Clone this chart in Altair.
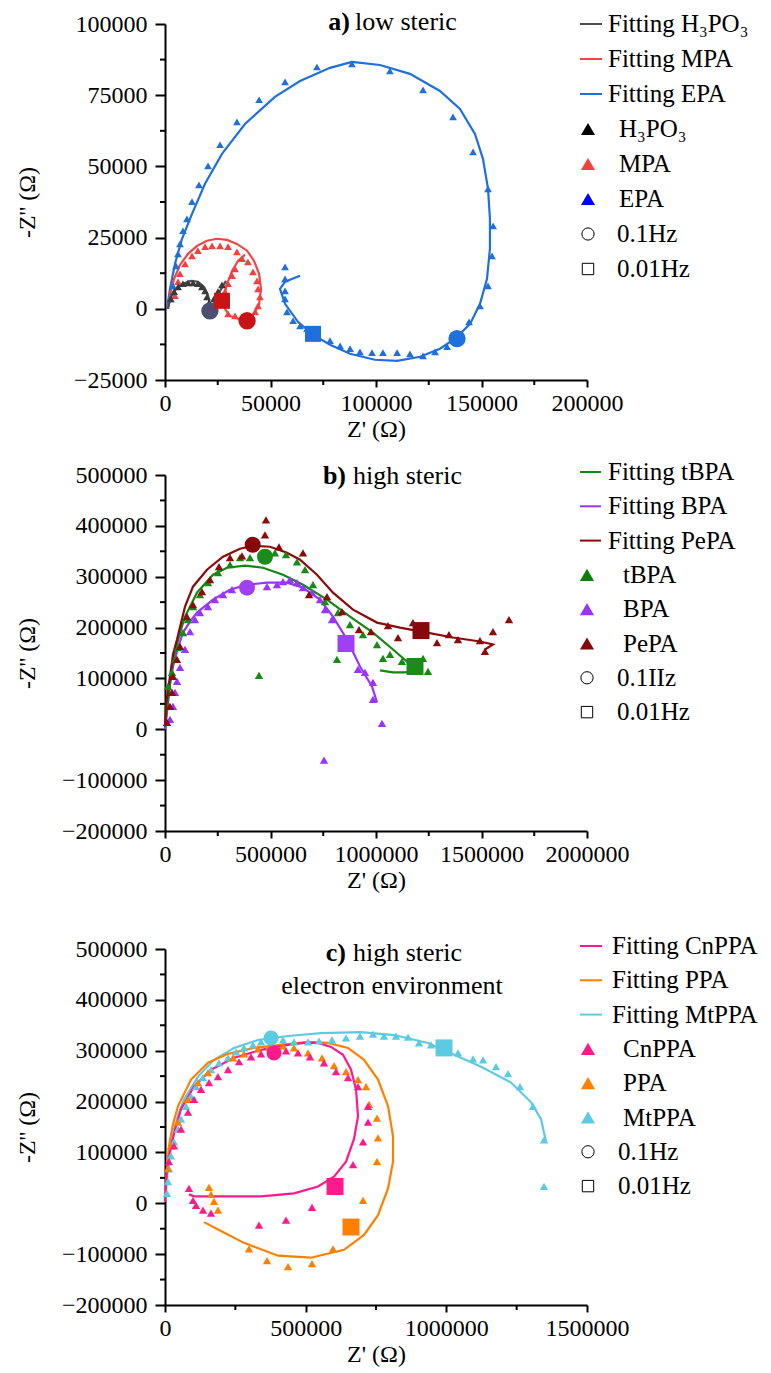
import altair as alt
import pandas as pd

FONT = "Liberation Serif"
W, H = 422, 356

# ---------------- panel a (low steric) ----------------
H3PO3_FIT_X = [1400, 2800, 5200, 8500, 12300, 15600, 18500, 20400, 21300, 22300, 23700, 26100, 28900]
H3PO3_FIT_Y = [0, 4200, 7000, 8800, 9800, 9500, 7700, 4600, 1400, 0, 2800, 6300, 9800]
H3PO3_PTS_X = [2800, 4300, 6200, 8500, 10900, 13300, 15600, 17500, 19000, 19900, 20900, 23200, 25100, 27000]
H3PO3_PTS_Y = [3500, 6000, 7700, 8800, 9100, 9100, 8800, 7700, 6300, 4200, 2100, 3500, 6000, 8400]

MPA_FIT_X = [1400, 2400, 4300, 7100, 10900, 15200, 19900, 24600, 29400, 34100, 38900, 42200, 44600, 45500,
             44600, 42200, 38900, 34600, 30800, 28400, 28000, 29400, 31800, 34600, 37900]
MPA_FIT_Y = [0, 5300, 10500, 15400, 19300, 22100, 23900, 24600, 24200, 22800, 20400, 16800, 12300, 7000,
             1750, -1750, -3500, -3500, -2500, 0, 4200, 8800, 13300, 16800, 19000]
MPA_PTS_X = [4700, 6200, 7100, 9500, 12800, 15600, 19000, 22300, 26100, 29900, 34100, 36500, 39300, 41700,
             43600, 44100, 45000, 44100, 42700, 39300, 36500, 33200, 29900, 28400, 29900, 31800, 33200]
MPA_PTS_Y = [4600, 9500, 12300, 15800, 18600, 20400, 21800, 22100, 22100, 21800, 20000, 17600, 16500, 13000,
             9800, 7000, 4200, 1050, -1050, -2500, -2800, -2500, -1750, 6000, 8800, 11600, 14000]

EPA_FIT_X = [950, 2370, 4740, 8060, 12800, 18960, 27000, 37900, 52100, 64000, 78200, 88600, 101900, 116100,
             130300, 139800, 146900, 150700, 153100, 154000, 154000, 152600, 149300, 144600, 137500, 130300,
             120900, 110000, 99500, 87700, 78200, 70150, 63000, 56900, 54500, 56900, 64000]
EPA_FIT_Y = [0, 7020, 15800, 24570, 33350, 43900, 54400, 64900, 74400, 80000, 84600, 86700, 85600, 82500,
             76500, 70200, 61400, 52650, 42100, 31600, 21100, 10500, 1750, -5300, -10500, -14000,
             -16850, -18250, -17900, -15800, -12600, -9100, -4560, 1750, 7000, 9500, 11600]
EPA_PTS_X = [2370, 3790, 5210, 6160, 7110, 8530, 10400, 12800, 16100, 20400, 26100, 34100, 44600, 56900,
             72000, 88600, 106600, 122300, 136500, 146000, 153100, 155500, 155000, 153100, 149300, 144100,
             133700, 128000, 122300, 116100, 110000, 103300, 98100, 92400, 87700, 83000, 78200, 67300,
             64000, 60700, 57800, 56900, 56900, 56900, 56900]
EPA_PTS_Y = [3510, 8070, 15100, 19300, 22800, 27400, 31600, 37600, 43500, 50200, 57600, 65600, 73400, 79700,
             84900, 86000, 83500, 76900, 67400, 55100, 42100, 29100, 18600, 8070, 1050, -4560,
             -13300, -15100, -16500, -15800, -15400, -15400, -15400, -15100, -14000, -13000, -11200, -7000,
             -6000, -4200, -1050, 3500, 6300, 10500, 14700]

A_CIRCLE_SERIES = ["H3PO3", "MPA", "EPA"]
A_CIRCLE_X = [21300, 38900, 138400]
A_CIRCLE_Y = [-700, -4200, -10500]
A_SQUARE_SERIES = ["MPA", "EPA"]
A_SQUARE_X = [27000, 70150]
A_SQUARE_Y = [2800, -8800]

# ---------------- panel b (high steric) ----------------
TBPA_FIT_X = [0, 14200, 37900, 71100, 94800, 151600, 227500, 293800, 379100, 464400, 559200, 654000,
              767700, 876700, 985700, 1080500, 1151600, 1184800, 1137400, 1080500, 1018900]
TBPA_FIT_Y = [5900, 58800, 137300, 190200, 221600, 268700, 304000, 317700, 321600, 317700, 304000, 284300,
              254900, 221600, 190200, 156900, 131400, 115000, 111800, 111800, 115700]
TBPA_PTS_X = [14200, 33200, 47400, 61600, 85300, 109000, 132700, 165900, 203800, 251200, 308000, 355400,
              402800, 521300, 573400, 625500, 663500, 701400, 758200, 819800, 876700, 938300, 1004700,
              1066300, 1123100, 1222700, 1246400, 1033100, 815100, 445500]
TBPA_PTS_Y = [84300, 111800, 137300, 160800, 190200, 215700, 241200, 264700, 288300, 307900, 323600, 337300,
              337300, 347100, 343200, 329400, 313800, 284300, 251000, 229400, 205900, 186300, 166700,
              147100, 133300, 139200, 113700, 139200, 137300, 105900]

BPA_FIT_X = [0, 9500, 23700, 37900, 61600, 85300, 118500, 151600, 227500, 308000, 388600, 483400, 578200,
             654000, 734500, 796200, 862500, 924100, 981000, 1004700]
BPA_FIT_Y = [0, 33300, 88200, 123500, 160800, 190200, 211800, 229400, 254900, 274500, 284300, 288300, 288300,
             278500, 254900, 221600, 176500, 123500, 84300, 52900]
BPA_PTS_X = [23700, 37900, 47400, 56900, 71100, 94800, 118500, 142200, 165900, 203800, 237000, 274900,
             317500, 483400, 530800, 559200, 592400, 625500, 654000, 696600, 734500, 758200, 791400,
             914600, 947800, 985700, 985700, 1028400, 753500]
BPA_PTS_Y = [19600, 45100, 72600, 94100, 121600, 156900, 192200, 215700, 229400, 241200, 254900, 264700,
             274500, 280400, 284300, 290200, 294200, 288300, 278500, 268700, 254900, 235300, 215700,
             117700, 111800, 92200, 58800, 11800, -60800]

PEPA_FIT_X = [0, 4700, 23700, 37900, 56900, 94800, 132700, 199000, 274900, 355400, 417000, 497600, 578200,
              639800, 720300, 796200, 890900, 1004700, 1113700, 1241600, 1364800, 1492800, 1554400, 1516500]
PEPA_FIT_Y = [5900, 49000, 103900, 147100, 176500, 241200, 280400, 313800, 339300, 354900, 360800, 358900,
              347100, 333400, 304000, 268700, 235300, 209800, 200000, 190200, 180400, 172600, 166700, 156900]
PEPA_PTS_X = [9500, 23700, 33200, 37900, 56900, 71100, 104300, 132700, 175300, 213300, 255900, 308000,
              364900, 473900, 478600, 540200, 654000, 682400, 767700, 838800, 919400, 976200, 1056800,
              1104200, 1175300, 1289000, 1345900, 1388500, 1492800, 1516500, 1554400, 1630200]
PEPA_PTS_Y = [13700, 45100, 72600, 103900, 137300, 162800, 221600, 245100, 270600, 294200, 319600, 337300,
              341200, 382400, 411800, 358900, 347100, 264700, 260800, 231400, 196100, 192200, 203900,
              180400, 209800, 170600, 186300, 176500, 174500, 153000, 192200, 215700]

B_CIRCLE_SERIES = ["tBPA", "BPA", "PePA"]
B_CIRCLE_X = [474000, 388600, 415500]
B_CIRCLE_Y = [339300, 278500, 362800]
B_SQUARE_SERIES = ["tBPA", "BPA", "PePA"]
B_SQUARE_X = [1184800, 857800, 1213200]
B_SQUARE_Y = [123500, 168600, 194100]

# ---------------- panel c (high steric, electron environment) ----------------
CNPPA_FIT_X = [0, 7100, 21300, 39100, 56900, 103100, 163500, 245300, 341300, 437300, 494200, 543900, 590100,
               632800, 661200, 679000, 686100, 671900, 643500, 600800, 543900, 458600, 341300, 224000,
               103100, 85300]
CNPPA_FIT_Y = [3900, 68100, 112900, 151800, 184900, 229600, 262700, 286100, 301600, 311400, 315300, 315300,
               307500, 291900, 262700, 223800, 171200, 126500, 81700, 52500, 33100, 19500, 13600, 13600,
               13600, 17500]
CNPPA_PTS_X = [14200, 32000, 56900, 81800, 103100, 128000, 156400, 188400, 224000, 263100, 305700, 341300,
               430200, 472800, 515500, 565200, 607900, 650600, 686100, 721700, 721700, 703900, 668400,
               522600, 430200, 334200, 163500, 135100, 110200, 99500, 85300]
CNPPA_PTS_Y = [81700, 112900, 146000, 179000, 204300, 223800, 237400, 249100, 262700, 278300, 288000, 293800,
               299700, 295800, 288000, 276300, 258800, 247100, 229600, 190700, 159600, 120700, 75900,
               -7800, -33100, -42800, -19500, -13600, -3900, 5800, 29200]

PPA_FIT_X = [0, 7100, 14200, 28400, 46200, 92400, 152900, 224000, 316400, 412400, 508400, 579500, 650600,
             707400, 757200, 792800, 810500, 810500, 792800, 757200, 707400, 636300, 519000, 401700, 280800,
             199100, 138600]
PPA_FIT_Y = [3900, 68100, 112900, 155700, 190700, 243300, 276300, 293800, 305500, 311400, 317200, 315300,
             305500, 282200, 243300, 190700, 132300, 81700, 29200, -23400, -62300, -91500, -107000, -103100,
             -77800, -54500, -37000]
PPA_PTS_X = [10700, 21300, 46200, 81800, 117300, 152900, 241700, 280800, 330600, 369700, 419500, 458600,
             508400, 558100, 600800, 643500, 686100, 714600, 725200, 753700, 757200, 753700, 703900, 597200,
             522600, 437300, 362600, 298600, 188400, 174200, 163500, 156400]
PPA_PTS_Y = [68100, 112900, 159600, 204300, 237400, 256900, 286100, 293800, 303600, 307500, 309400, 305500,
             295800, 286100, 270500, 258800, 243300, 229600, 194600, 167400, 128400, 81700, 5800, -89500,
             -118700, -124500, -112900, -89500, -13600, 3900, 17500, 31100]

MTPPA_FIT_X = [0, 7100, 10700, 21300, 32000, 49800, 67500, 117300, 174200, 245300, 330600, 437300, 554600,
               696800, 814100, 935000, 1027400, 1123400, 1230000, 1301100, 1336700, 1354500]
MTPPA_FIT_Y = [3900, 48700, 68100, 110900, 146000, 179000, 204300, 249100, 282200, 305500, 321100, 328900,
               334700, 336700, 330800, 315300, 291900, 268500, 237400, 198500, 165400, 120700]
MTPPA_PTS_X = [7100, 10700, 14200, 21300, 32000, 46200, 56900, 74700, 92400, 110200, 135100, 163500, 192000,
               224000, 252400, 280800, 312800, 341300, 419500, 458600, 508400, 547500, 593700, 643500,
               693200, 739400, 778500, 821200, 863900, 903000, 945600, 1041600, 1094900, 1130500, 1176700,
               1219400, 1262000, 1308200, 1347300, 1347300]
MTPPA_PTS_Y = [19500, 42800, 68100, 93400, 120700, 146000, 165400, 190700, 210200, 229600, 247100, 262700,
               276300, 286100, 297700, 305500, 311400, 317200, 321100, 317200, 317200, 319100, 321100, 325000,
               328900, 332800, 328900, 328900, 326900, 315300, 311400, 295800, 284100, 282200, 268500,
               254900, 229600, 190700, 124500, 33100]

C_CIRCLE_SERIES = ["CnPPA", "MtPPA"]
C_CIRCLE_X = [387500, 376800]
C_CIRCLE_Y = [295800, 325000]
C_SQUARE_SERIES = ["CnPPA", "PPA", "MtPPA"]
C_SQUARE_X = [604400, 661200, 991800]
C_SQUARE_Y = [33100, -46700, 305500]

# ---------------- axes ticks ----------------
A_X_MAJOR = [0, 50000, 100000, 150000, 200000]
A_X_MINOR = [25000, 75000, 125000, 175000]
A_Y_MAJOR = [-25000, 0, 25000, 50000, 75000, 100000]
A_Y_MINOR = [-12500, 12500, 37500, 62500, 87500]
B_X_MAJOR = [0, 500000, 1000000, 1500000, 2000000]
B_X_MINOR = [250000, 750000, 1250000, 1750000]
BC_Y_MAJOR = [-200000, -100000, 0, 100000, 200000, 300000, 400000, 500000]
BC_Y_MINOR = [-150000, -50000, 50000, 150000, 250000, 350000, 450000]
C_X_MAJOR = [0, 500000, 1000000, 1500000]
C_X_MINOR = [250000, 750000, 1250000]

# ---------------- legend labels and titles ----------------
LEG_A = ["Fitting H₃PO₃", "Fitting MPA", "Fitting EPA", "H₃PO₃", "MPA", "EPA", "0.1Hz", "0.01Hz"]
LEG_B = ["Fitting tBPA", "Fitting BPA", "Fitting PePA", "tBPA", "BPA", "PePA", "0.1IIz", "0.01Hz"]
LEG_C = ["Fitting CnPPA", "Fitting PPA", "Fitting MtPPA", "CnPPA", "PPA", "MtPPA", "0.1Hz", "0.01Hz"]
TITLE_A = ["a)", "low steric"]
TITLE_B = ["b)", "high steric"]
TITLE_C = ["c)", "high steric", "electron environment"]

# ---------------- styles ----------------
LINE_COL = {"H3PO3": "#4d4d4d", "MPA": "#f04545", "EPA": "#1f6fdc", "tBPA": "#118811", "BPA": "#9933ff",
            "PePA": "#8b0a0a", "CnPPA": "#ff1a8c", "PPA": "#ff8000", "MtPPA": "#5ccbe2"}
PT_COL = {"H3PO3": "#3a3a3a", "MPA": "#f04040", "EPA": "#1f6fdc", "tBPA": "#168a16", "BPA": "#9933ff",
          "PePA": "#8b0a0a", "CnPPA": "#ff1a8c", "PPA": "#ff8000", "MtPPA": "#5ccbe2"}
MARK_COL = {"H3PO3": "#4b5070", "MPA": "#c81414", "EPA": "#1f6fdc", "tBPA": "#1a8c1a", "BPA": "#a040f5",
            "PePA": "#860808", "CnPPA": "#ff1a8c", "PPA": "#ff8000", "MtPPA": "#5ccbe2"}

AXIS_STYLE = dict(labelFont=FONT, labelFontSize=24, labelColor="black", titleFont=FONT, titleFontSize=24,
                  titleFontWeight="normal", titleColor="black", domainColor="black", domainWidth=2,
                  tickColor="black", tickWidth=2, grid=False, labelFlush=False, labelOverlap=False)


def series_df(items, colmap):
    frames = []
    for name, xs, ys in items:
        frames.append(pd.DataFrame({"zr": xs, "zi": ys, "series": name,
                                    "order": list(range(len(xs))), "color": colmap[name]}))
    return pd.concat(frames, ignore_index=True)


def marker_df(names, xs, ys):
    return pd.DataFrame({"zr": xs, "zi": ys, "series": names, "color": [MARK_COL[n] for n in names]})


def make_panel(fits, pts, circles, squares, xdom, ydom, xmaj, xmin, ymaj, ymin, pt_size, csize, ssize,
               legend_labels, legend_colors, leg, titles):
    xenc = alt.X("zr:Q", scale=alt.Scale(domain=xdom, nice=False, zero=False),
                 axis=alt.Axis(values=xmaj, format="d", title="Z' (Ω)", tickSize=7, labelPadding=4,
                               titlePadding=2, **AXIS_STYLE))
    yenc = alt.Y("zi:Q", scale=alt.Scale(domain=ydom, nice=False, zero=False),
                 axis=alt.Axis(values=ymaj, format="d", title="-Z'' (Ω)", tickSize=10, labelPadding=8,
                               titleX=-126, titleBaseline="bottom", **AXIS_STYLE))
    col = alt.Color("color:N", scale=None)

    fit_df = series_df(fits, LINE_COL)
    pts_df = series_df(pts, PT_COL)

    lines = alt.Chart(fit_df).mark_line(strokeWidth=2.2).encode(
        x=xenc, y=yenc, color=col, detail="series:N", order="order:Q")
    tri = alt.Chart(pts_df).mark_point(shape="triangle-up", filled=True, size=pt_size, opacity=1).encode(
        x=xenc, y=yenc, color=col)
    circ = alt.Chart(circles).mark_point(shape="circle", filled=True, size=csize, opacity=1).encode(
        x=xenc, y=yenc, color=col)
    sq = alt.Chart(squares).mark_point(shape="square", filled=True, size=ssize, opacity=1).encode(
        x=xenc, y=yenc, color=col)
    minx = alt.Chart(pd.DataFrame({"zr": xmin})).mark_rule(color="black", strokeWidth=2).encode(
        x=xenc, y=alt.value(H), y2=alt.value(H + 5))
    miny = alt.Chart(pd.DataFrame({"zi": ymin})).mark_rule(color="black", strokeWidth=2).encode(
        y=yenc, x=alt.value(0), x2=alt.value(-5))
    data_layer = alt.layer(lines, tri, circ, sq, minx, miny)

    # legend
    kinds = ["line", "line", "line", "tri", "tri", "tri", "circle", "square"]
    ldf = pd.DataFrame({"row": list(range(8)), "label": legend_labels, "kind": kinds, "color": legend_colors})
    ly = alt.Y("row:Q", scale=alt.Scale(domain=[0, 7], range=[leg["y0"], leg["y0"] + 7 * leg["step"]]),
               axis=None)
    base = alt.Chart(ldf)
    txt = dict(align="left", baseline="middle", font=FONT, fontSize=25, color="black")
    l_lines = base.transform_filter("datum.kind === 'line'").mark_rule(strokeWidth=2).encode(
        x=alt.value(leg["lx0"]), x2=alt.value(leg["lx1"]), y=ly, color=col)
    l_tri = base.transform_filter("datum.kind === 'tri'").mark_point(
        shape="triangle-up", filled=True, size=200, opacity=1).encode(x=alt.value(leg["sx"]), y=ly, color=col)
    l_circ = base.transform_filter("datum.kind === 'circle'").mark_point(
        shape="circle", filled=False, size=150, strokeWidth=1, color="black", opacity=1).encode(
        x=alt.value(leg["sx"]), y=ly)
    l_sq = base.transform_filter("datum.kind === 'square'").mark_point(
        shape="square", filled=False, size=130, strokeWidth=1, color="black", opacity=1).encode(
        x=alt.value(leg["sx"]), y=ly)
    t_fit = base.transform_filter("datum.kind === 'line'").mark_text(**txt).encode(
        x=alt.value(leg["tf"]), y=ly, text="label:N")
    t_sp = base.transform_filter("datum.kind === 'tri'").mark_text(**txt).encode(
        x=alt.value(leg["ts"]), y=ly, text="label:N")
    t_hz = base.transform_filter("datum.kind === 'circle' || datum.kind === 'square'").mark_text(**txt).encode(
        x=alt.value(leg["th"]), y=ly, text="label:N")

    tlayers = []
    for t, bold, align, tx, ty in titles:
        tlayers.append(alt.Chart(pd.DataFrame({"t": [t]})).mark_text(
            align=align, baseline="alphabetic", font=FONT, fontSize=26,
            fontWeight="bold" if bold else "normal", color="black").encode(
            x=alt.value(tx), y=alt.value(ty), text="t:N"))

    legend_layer = alt.layer(l_lines, l_tri, l_circ, l_sq, t_fit, t_sp, t_hz, *tlayers)
    return alt.layer(data_layer, legend_layer).resolve_scale(y="independent").properties(width=W, height=H)


# ---------- panel a ----------
pa = make_panel(
    fits=[("EPA", EPA_FIT_X, EPA_FIT_Y), ("MPA", MPA_FIT_X, MPA_FIT_Y), ("H3PO3", H3PO3_FIT_X, H3PO3_FIT_Y)],
    pts=[("EPA", EPA_PTS_X, EPA_PTS_Y), ("MPA", MPA_PTS_X, MPA_PTS_Y), ("H3PO3", H3PO3_PTS_X, H3PO3_PTS_Y)],
    circles=marker_df(A_CIRCLE_SERIES, A_CIRCLE_X, A_CIRCLE_Y),
    squares=marker_df(A_SQUARE_SERIES, A_SQUARE_X, A_SQUARE_Y),
    xdom=[0, 200000], ydom=[-25000, 100000], xmaj=A_X_MAJOR, xmin=A_X_MINOR, ymaj=A_Y_MAJOR, ymin=A_Y_MINOR,
    pt_size=60, csize=300, ssize=256,
    legend_labels=LEG_A,
    legend_colors=["#4d4d4d", "#f04545", "#1f6fdc", "#000000", "#f04040", "#0000ff", "black", "black"],
    leg=dict(y0=0, step=35, lx0=415, lx1=437, sx=423, tf=443, ts=454, th=452),
    titles=[(TITLE_A[0], True, "right", 185, 6), (TITLE_A[1], False, "left", 190, 6)],
)

# ---------- panel b ----------
pb = make_panel(
    fits=[("BPA", BPA_FIT_X, BPA_FIT_Y), ("tBPA", TBPA_FIT_X, TBPA_FIT_Y), ("PePA", PEPA_FIT_X, PEPA_FIT_Y)],
    pts=[("BPA", BPA_PTS_X, BPA_PTS_Y), ("tBPA", TBPA_PTS_X, TBPA_PTS_Y), ("PePA", PEPA_PTS_X, PEPA_PTS_Y)],
    circles=marker_df(B_CIRCLE_SERIES, B_CIRCLE_X, B_CIRCLE_Y),
    squares=marker_df(B_SQUARE_SERIES, B_SQUARE_X, B_SQUARE_Y),
    xdom=[0, 2000000], ydom=[-200000, 500000], xmaj=B_X_MAJOR, xmin=B_X_MINOR, ymaj=BC_Y_MAJOR, ymin=BC_Y_MINOR,
    pt_size=70, csize=256, ssize=289,
    legend_labels=LEG_B,
    legend_colors=["#118811", "#9933ff", "#8b0a0a", "#0a7d0a", "#9933ff", "#860808", "black", "black"],
    leg=dict(y0=-3, step=34.3, lx0=415, lx1=436, sx=422, tf=443, ts=458, th=452),
    titles=[(TITLE_B[0], True, "right", 181, 9), (TITLE_B[1], False, "left", 188, 9)],
)

# ---------- panel c ----------
pc = make_panel(
    fits=[("MtPPA", MTPPA_FIT_X, MTPPA_FIT_Y), ("PPA", PPA_FIT_X, PPA_FIT_Y), ("CnPPA", CNPPA_FIT_X, CNPPA_FIT_Y)],
    pts=[("MtPPA", MTPPA_PTS_X, MTPPA_PTS_Y), ("PPA", PPA_PTS_X, PPA_PTS_Y), ("CnPPA", CNPPA_PTS_X, CNPPA_PTS_Y)],
    circles=marker_df(C_CIRCLE_SERIES, C_CIRCLE_X, C_CIRCLE_Y),
    squares=marker_df(C_SQUARE_SERIES, C_SQUARE_X, C_SQUARE_Y),
    xdom=[0, 1500000], ydom=[-200000, 500000], xmaj=C_X_MAJOR, xmin=C_X_MINOR, ymaj=BC_Y_MAJOR, ymin=BC_Y_MINOR,
    pt_size=70, csize=230, ssize=289,
    legend_labels=LEG_C,
    legend_colors=["#ff1a8c", "#ff8000", "#5ccbe2", "#ff1a8c", "#ff8000", "#5ccbe2", "black", "black"],
    leg=dict(y0=-3, step=34.3, lx0=415, lx1=437, sx=423, tf=447, ts=458, th=453),
    titles=[(TITLE_C[0], True, "right", 181, 12), (TITLE_C[1], False, "left", 188, 12),
            (TITLE_C[2], False, "center", 227, 45)],
)

top = alt.vconcat(pa, pb, spacing=19)
chart = alt.vconcat(top, pc, spacing=42).properties(
    padding={"left": 15, "top": 9, "right": 2, "bottom": 2}
).configure_view(stroke=None).configure_axis(**AXIS_STYLE)

chart.save("out.html", embed_options={"renderer": "svg", "actions": False})
